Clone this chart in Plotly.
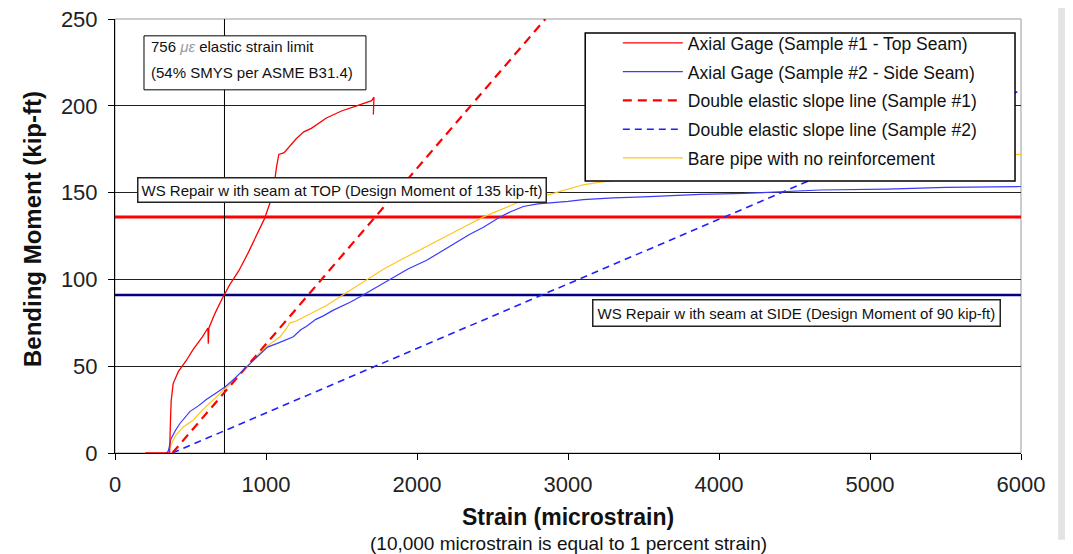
import plotly.graph_objects as go

# ---------------- data ----------------
s1_x = [200, 350, 362, 366, 372, 385, 420, 470, 520, 580, 615, 618, 622, 660, 710, 760, 820, 880,
        940, 990, 1030, 1055, 1070, 1085, 1120, 1150, 1200, 1250, 1300, 1400, 1500, 1600, 1700, 1715, 1711]
s1_y = [0, 0, 0, 15, 30, 40, 47, 53, 60, 67, 72, 63, 72, 80, 89, 97, 105, 115,
        126, 135, 145, 155, 165, 172, 173, 176, 181, 185, 187, 193, 197, 200, 203, 205, 195]

s2_x = [340, 353, 370, 400, 430, 470, 497, 550, 607, 660, 728, 780, 828, 900, 960, 1010, 1071, 1130,
        1181, 1230, 1269, 1330, 1380, 1440, 1490, 1560, 1623, 1700, 1760, 1821, 1940, 2064, 2160, 2263,
        2350, 2440, 2550, 2620, 2704, 2800, 2881, 3000, 3101, 3300, 3500, 3874, 4166, 4669, 5113, 5500, 6000]
s2_y = [0, 1, 8, 13, 17, 21, 24, 27, 31, 34, 38, 42, 46, 52, 57, 61, 63, 65,
        67, 71, 73, 77, 79, 82, 84, 87, 90, 94, 97, 100, 106, 111, 116, 121,
        126, 130, 136, 139, 142, 143.5, 144, 145, 146, 147, 147.5, 149, 149.5, 151.5, 152, 153, 153.5]

bare_x = [345, 360, 400, 452, 519, 570, 629, 680, 728, 780, 828, 900, 960, 1030, 1093, 1130, 1159, 1200,
          1269, 1313, 1400, 1490, 1580, 1667, 1780, 1887, 2000, 2108, 2220, 2330, 2440, 2550, 2660, 2770,
          2881, 2920, 3000, 3100, 3212, 3311, 3500, 3800, 4300, 5000, 5500, 6000]
bare_y = [0, 3, 10, 15, 19, 24, 29, 33, 37, 41, 46, 52, 58, 63, 67, 71, 75, 76,
          79, 81, 85, 90, 95, 100, 106, 111, 116, 121, 126, 131, 136, 140, 144, 147.5,
          149, 150, 152, 154.5, 156, 157, 159, 162, 165, 169, 171, 172]

des1_x = [380, 2850]
des1_y = [0, 250]
des2_x = [380, 6000]
des2_y = [0, 209]

design_top = 136
design_side = 91
strain_limit = 725
x_range = [0, 6000]
y_range = [0, 250]

x_ticks = [0, 1000, 2000, 3000, 4000, 5000, 6000]
y_ticks = [0, 50, 100, 150, 200, 250]

FONT = "Arial, 'Liberation Sans', sans-serif"

fig = go.Figure()

# design moment lines
fig.add_trace(go.Scatter(x=x_range, y=[design_top, design_top], mode="lines",
                         line=dict(color="#ff0000", width=3), showlegend=False, hoverinfo="skip"))
fig.add_trace(go.Scatter(x=x_range, y=[design_side, design_side], mode="lines",
                         line=dict(color="#000080", width=2.5), showlegend=False, hoverinfo="skip"))
# elastic strain limit vertical
fig.add_trace(go.Scatter(x=[strain_limit, strain_limit], y=y_range, mode="lines",
                         line=dict(color="black", width=1), showlegend=False, hoverinfo="skip"))

fig.add_trace(go.Scatter(x=bare_x, y=bare_y, mode="lines", name="Bare pipe with no reinforcement",
                         line=dict(color="#ffc61e", width=1.2), legendrank=5, legendgroup="e"))
fig.add_trace(go.Scatter(x=des2_x, y=des2_y, mode="lines", name="Double elastic slope line (Sample #2)",
                         line=dict(color="#2020ff", width=1.6, dash="7px,5px"), legendrank=4, legendgroup="d"))
fig.add_trace(go.Scatter(x=des1_x, y=des1_y, mode="lines", name="Double elastic slope line (Sample #1)",
                         line=dict(color="#ff0000", width=2.2, dash="9px,6px"), legendrank=3, legendgroup="c"))
fig.add_trace(go.Scatter(x=s2_x, y=s2_y, mode="lines", name="Axial Gage (Sample #2 - Side Seam)",
                         line=dict(color="#3a3aff", width=1.2), legendrank=2, legendgroup="b"))
fig.add_trace(go.Scatter(x=s1_x, y=s1_y, mode="lines", name="Axial Gage (Sample #1 - Top Seam)",
                         line=dict(color="#ff0000", width=1.3), legendrank=1, legendgroup="a"))

axis_common = dict(showline=True, linecolor="black", linewidth=1, ticks="outside", ticklen=6,
                   tickcolor="black", zeroline=False, automargin=False, ticklabeloverflow="allow",
                   tickfont=dict(family=FONT, size=22, color="#222"))

fig.update_xaxes(range=x_range, tickvals=x_ticks, showgrid=False, ticklabelstandoff=6, **axis_common)
fig.update_yaxes(range=y_range, tickvals=y_ticks, showgrid=True, gridcolor="#222", gridwidth=1,
                 ticklabelstandoff=6, **axis_common)

shapes = [
    # plot frame (top/right gray)
    dict(type="rect", xref="paper", yref="paper", x0=0, x1=1, y0=0, y1=1,
         line=dict(color="#9a9a9a", width=1), layer="below"),
    # elastic limit box
    dict(type="rect", xref="x", yref="y", x0=192, x1=1662, y0=209.2, y1=240.3,
         line=dict(color="black", width=1), fillcolor="white", layer="above"),
    # legend box
    dict(type="rect", xref="paper", yref="paper", x0=0.519, x1=0.9934, y0=0.627, y1=0.968,
         line=dict(color="black", width=1.5), fillcolor="white", layer="above"),
    # right edge gray band
    dict(type="rect", xref="paper", yref="paper", x0=1.041, x1=1.06, y0=-0.2, y1=1.03,
         line=dict(width=0), fillcolor="#e3e3e3", layer="below"),
]

annotations = [
    dict(x=225, y=234, xref="x", yref="y", xanchor="left", yanchor="middle", showarrow=False,
         text="756 <i><span style='color:#9a9a9a'>με</span></i> elastic strain limit",
         font=dict(family=FONT, size=15, color="#111")),
    dict(x=225, y=219.2, xref="x", yref="y", xanchor="left", yanchor="middle", showarrow=False,
         text="(54% SMYS per ASME B31.4)",
         font=dict(family=FONT, size=15, color="#111")),
    dict(x=1503, y=151.6, xref="x", yref="y", xanchor="center", yanchor="middle", showarrow=False,
         text="WS Repair w ith seam at TOP (Design Moment of 135 kip-ft)",
         font=dict(family=FONT, size=15, color="#111"),
         bgcolor="white", bordercolor="#222", borderwidth=1.5, borderpad=3),
    dict(x=4510, y=80.5, xref="x", yref="y", xanchor="center", yanchor="middle", showarrow=False,
         text="WS Repair w ith seam at SIDE (Design Moment of 90 kip-ft)",
         font=dict(family=FONT, size=15, color="#111"),
         bgcolor="white", bordercolor="#222", borderwidth=1.5, borderpad=4),
    # axis titles
    dict(x=0.5, y=0, xref="paper", yref="paper", xanchor="center", yanchor="middle", yshift=-64,
         showarrow=False, text="<b>Strain (microstrain)</b>",
         font=dict(family=FONT, size=23, color="#111")),
    dict(x=0.5, y=0, xref="paper", yref="paper", xanchor="center", yanchor="middle", yshift=-90,
         showarrow=False, text="(10,000 microstrain is equal to 1 percent strain)",
         font=dict(family=FONT, size=19, color="#111")),
    dict(x=0, y=0.5, xref="paper", yref="paper", xanchor="center", yanchor="middle", xshift=-83,
         yshift=7, textangle=-90, showarrow=False, text="<b>Bending Moment (kip-ft)</b>",
         font=dict(family=FONT, size=24, color="#111")),
]

# page body has an 8px margin: shrink figure and left/top margins accordingly
fig.update_layout(
    width=1065, height=546,
    margin=dict(l=107, r=52, t=11, b=101, autoexpand=False),
    plot_bgcolor="white", paper_bgcolor="white",
    font=dict(family=FONT, color="#111"),
    shapes=shapes, annotations=annotations,
    legend=dict(x=0.555, y=0.986, xanchor="left", yanchor="top",
                bgcolor="rgba(0,0,0,0)", borderwidth=0,
                font=dict(family=FONT, size=17.5, color="#111"),
                itemwidth=60, tracegroupgap=3, traceorder="grouped"),
)

fig.write_html("out.html")
